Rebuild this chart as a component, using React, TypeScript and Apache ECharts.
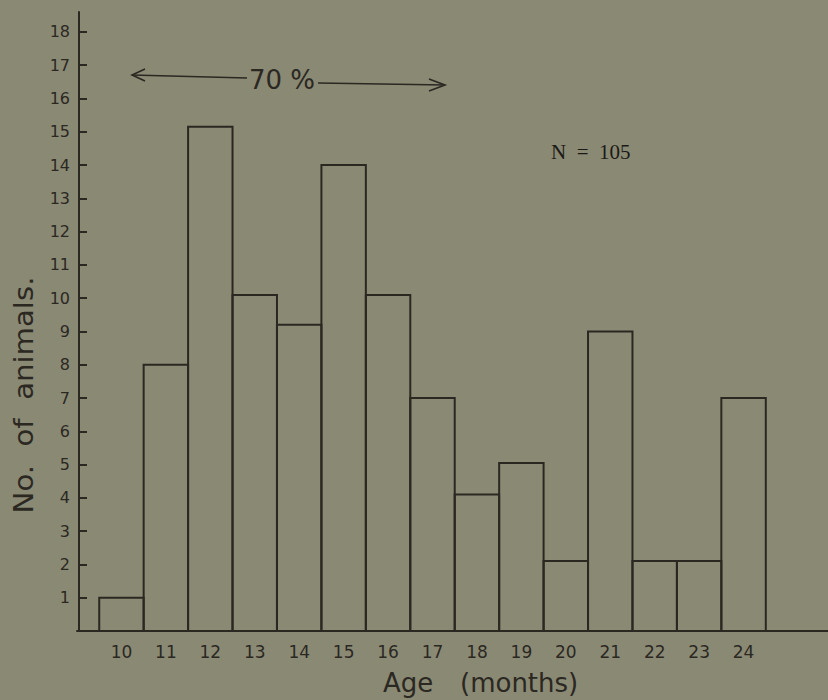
import React, { useEffect, useRef } from "react";
import * as echarts from "echarts";

const ages = [10, 11, 12, 13, 14, 15, 16, 17, 18, 19, 20, 21, 22, 23, 24];
const counts = [1, 8, 15.15, 10.1, 9.2, 14, 10.1, 7, 4.1, 5.05, 2.1, 9, 2.1, 2.1, 7];
const yTicks = [1, 2, 3, 4, 5, 6, 7, 8, 9, 10, 11, 12, 13, 14, 15, 16, 17, 18];
const yTitle = "No.\u00a0\u00a0of\u00a0\u00a0animals.";
const xTitleA = "Age";
const xTitleB = "(months)";
const noteN = "N\u00a0\u00a0=\u00a0\u00a0105";
const notePct = "70 %";

const INK = "#2b2822";
const BG = "#8a8974";

export default function App() {
  const ref = useRef<HTMLDivElement>(null);
  useEffect(() => {
    if (!ref.current) return;
    const chart = echarts.init(ref.current, undefined, { renderer: "svg" });
    const data = ages.map((a, i) => [a, counts[i]]);
    chart.setOption({
      animation: false,
      backgroundColor: BG,
      grid: { left: 77, right: 0, top: 12, bottom: 69, outerBoundsMode: "none", containLabel: false },
      xAxis: {
        type: "value",
        min: 9,
        max: 25.9,
        interval: 1,
        axisLine: { show: true, lineStyle: { color: INK, width: 2 } },
        axisTick: { show: false },
        splitLine: { show: false },
        axisLabel: {
          color: INK,
          fontSize: 17,
          fontFamily: "DejaVu Sans",
          margin: 12,
          showMaxLabel: false,
          formatter: (v: number) => (ages.indexOf(v) >= 0 ? String(v) : ""),
        },
      },
      yAxis: {
        type: "value",
        min: 0,
        max: 18.6,
        interval: 1,
        offset: -2,
        axisLine: { show: true, lineStyle: { color: INK, width: 2 } },
        axisTick: { show: true, inside: true, length: 8, lineStyle: { color: INK, width: 2 } },
        splitLine: { show: false },
        axisLabel: {
          color: INK,
          fontSize: 16,
          fontFamily: "DejaVu Sans",
          margin: 9,
          showMaxLabel: false,
          formatter: (v: number) => (yTicks.indexOf(v) >= 0 ? String(v) : ""),
        },
      },
      series: [
        {
          type: "custom",
          data,
          renderItem: (params: any, api: any) => {
            const x = api.value(0);
            const y = api.value(1);
            const p0 = api.coord([x - 0.5, y]);
            const p1 = api.coord([x + 0.5, 0]);
            return {
              type: "rect",
              shape: { x: p0[0], y: p0[1], width: p1[0] - p0[0], height: p1[1] - p0[1] },
              style: { fill: "none", stroke: INK, lineWidth: 2 },
            };
          },
        },
      ],
      graphic: [
        {
          type: "text",
          x: 24,
          y: 395,
          rotation: Math.PI / 2,
          scaleX: 1.08,
          style: {
            text: yTitle, x: 0, y: 0, fill: INK, fontSize: 27, fontFamily: "DejaVu Sans",
            align: "center", verticalAlign: "middle", textAlign: "center", textVerticalAlign: "middle",
          },
        },
        {
          type: "text",
          x: 383,
          y: 683,
          style: {
            text: xTitleA, x: 0, y: 0, fill: INK, fontSize: 26, fontFamily: "DejaVu Sans",
            align: "left", verticalAlign: "middle", textAlign: "left", textVerticalAlign: "middle",
          },
        },
        {
          type: "text",
          x: 460,
          y: 683,
          style: {
            text: xTitleB, x: 0, y: 0, fill: INK, fontSize: 26, fontFamily: "DejaVu Sans",
            align: "left", verticalAlign: "middle", textAlign: "left", textVerticalAlign: "middle",
          },
        },
        {
          type: "text",
          x: 551,
          y: 152,
          style: {
            text: noteN, x: 0, y: 0, fill: "#1c1a16", fontSize: 21, fontFamily: "Liberation Serif",
            align: "left", verticalAlign: "middle", textAlign: "left", textVerticalAlign: "middle",
          },
        },
        {
          type: "text",
          x: 249,
          y: 80,
          style: {
            text: notePct, x: 0, y: 0, fill: INK, fontSize: 26, fontFamily: "DejaVu Sans",
            align: "left", verticalAlign: "middle", textAlign: "left", textVerticalAlign: "middle",
          },
        },
        { type: "line", shape: { x1: 132, y1: 75, x2: 247, y2: 78 }, style: { stroke: INK, lineWidth: 1.6 } },
        { type: "polyline", shape: { points: [[145, 69], [132, 75], [145, 81]] }, style: { stroke: INK, lineWidth: 1.6, fill: "none" } },
        { type: "line", shape: { x1: 318, y1: 83, x2: 445, y2: 85 }, style: { stroke: INK, lineWidth: 1.6 } },
        { type: "polyline", shape: { points: [[429, 79], [445, 85], [429, 91]] }, style: { stroke: INK, lineWidth: 1.6, fill: "none" } },
      ],
    });
    return () => chart.dispose();
  }, []);
  return (
    <div
      ref={ref}
      style={{ position: "absolute", left: 0, top: 0, width: 828, height: 700 }}
    />
  );
}
